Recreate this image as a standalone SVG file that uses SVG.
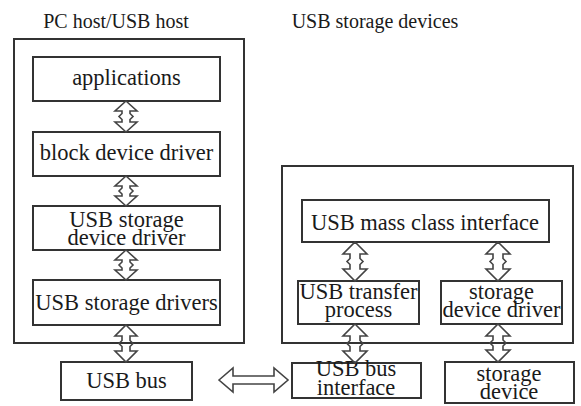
<svg xmlns="http://www.w3.org/2000/svg" width="581" height="406" viewBox="0 0 581 406">
  <style>
    .frame { fill: none; stroke: #333; stroke-width: 2; }
    .box { fill: #fff; stroke: #333; stroke-width: 2; }
    .lbl { font-family: 'Liberation Serif', 'DejaVu Serif', serif; font-size: 22.5px; fill: #1a1a1a; text-anchor: middle; }
    .title { font-family: 'Liberation Serif', 'DejaVu Serif', serif; font-size: 20px; fill: #1a1a1a; text-anchor: middle; }
    .arrow { fill: none; stroke: #444; stroke-width: 1.6; stroke-linejoin: miter; }
  </style>
  <rect width="581" height="406" fill="#fff"/>

  <!-- titles -->
  <text class="title" x="116" y="28">PC host/USB host</text>
  <text class="title" x="375" y="28">USB storage devices</text>

  <!-- enclosing frames -->
  <g id="host">
    <rect class="frame" x="14" y="39" width="230" height="304"/>
  </g>
  <g id="device">
    <rect class="frame" x="282" y="166" width="291" height="177"/>
  </g>

  <!-- host stack -->
  <g id="applications">
    <rect class="box" x="33" y="57" width="187" height="44"/>
    <text class="lbl" x="126.5" y="85">applications</text>
  </g>
  <g id="block-device-driver">
    <rect class="box" x="33" y="132" width="187" height="44"/>
    <text class="lbl" x="126.5" y="160">block device driver</text>
  </g>
  <g id="usb-storage-device-driver">
    <rect class="box" x="33" y="206" width="187" height="44"/>
    <text class="lbl" x="126.5" y="227">USB storage</text>
    <text class="lbl" x="126.5" y="245">device driver</text>
  </g>
  <g id="usb-storage-drivers">
    <rect class="box" x="33" y="280" width="187" height="45"/>
    <text class="lbl" x="126.5" y="310">USB storage drivers</text>
  </g>
  <g id="usb-bus">
    <rect class="box" x="61" y="362" width="131" height="38"/>
    <text class="lbl" x="126.5" y="388">USB bus</text>
  </g>

  <!-- device side -->
  <g id="usb-mass-class-interface">
    <rect class="box" x="302" y="200" width="247" height="42"/>
    <text class="lbl" x="425" y="230">USB mass class interface</text>
  </g>
  <g id="usb-transfer-process">
    <rect class="box" x="298" y="281" width="121" height="43"/>
    <text class="lbl" x="358.5" y="299">USB transfer</text>
    <text class="lbl" x="358.5" y="317">process</text>
  </g>
  <g id="storage-device-driver">
    <rect class="box" x="441" y="281" width="121" height="43"/>
    <text class="lbl" x="501.5" y="299">storage</text>
    <text class="lbl" x="501.5" y="317">device driver</text>
  </g>
  <g id="usb-bus-interface">
    <rect class="box" x="292" y="363" width="129" height="35"/>
    <text class="lbl" x="356" y="376">USB bus</text>
    <text class="lbl" x="356" y="395">interface</text>
  </g>
  <g id="storage-device">
    <rect class="box" x="445" y="362" width="129" height="41"/>
    <text class="lbl" x="509" y="381">storage</text>
    <text class="lbl" x="509" y="399">device</text>
  </g>

  <!-- connectors: hollow double-headed arrows -->
  <g id="connectors">
    <path class="arrow" d="M126,101 L137,111 L130,111 L130,113.5 L133,116.5 L130,119.5 L130,122 L137,122 L126,132 L115,122 L122,122 L122,119.5 L119,116.5 L122,113.5 L122,111 L115,111 Z"/>
    <path class="arrow" d="M126,176 L137,186 L130,186 L130,188 L133,191 L130,194 L130,196 L137,196 L126,206 L115,196 L122,196 L122,194 L119,191 L122,188 L122,186 L115,186 Z"/>
    <path class="arrow" d="M126,250 L137,260 L130,260 L130,262 L133,265 L130,268 L130,270 L137,270 L126,280 L115,270 L122,270 L122,268 L119,265 L122,262 L122,260 L115,260 Z"/>
    <path class="arrow" d="M126,325 L137,336 L130,336 L130,340.5 L133,343.5 L130,346.5 L130,351 L137,351 L126,362 L115,351 L122,351 L122,346.5 L119,343.5 L122,340.5 L122,336 L115,336 Z"/>

    <path class="arrow" d="M355,242 L367,254 L360,254 L360,258.5 L363,261.5 L360,264.5 L360,269 L367,269 L355,281 L343,269 L350,269 L350,264.5 L347,261.5 L350,258.5 L350,254 L343,254 Z"/>
    <path class="arrow" d="M355,324 L367,336 L360,336 L360,340.5 L363,343.5 L360,346.5 L360,351 L367,351 L355,363 L343,351 L350,351 L350,346.5 L347,343.5 L350,340.5 L350,336 L343,336 Z"/>
    <path class="arrow" d="M498,242 L510,254 L503,254 L503,258.5 L506,261.5 L503,264.5 L503,269 L510,269 L498,281 L486,269 L493,269 L493,264.5 L490,261.5 L493,258.5 L493,254 L486,254 Z"/>
    <path class="arrow" d="M498,324 L510,336 L503,336 L503,340 L506,343 L503,346 L503,350 L510,350 L498,362 L486,350 L493,350 L493,346 L490,343 L493,340 L493,336 L486,336 Z"/>

    <path class="arrow" d="M219,380 L233,368 L233,376 L274,376 L274,368 L288,380 L274,392 L274,384 L233,384 L233,392 Z"/>
  </g>
</svg>
